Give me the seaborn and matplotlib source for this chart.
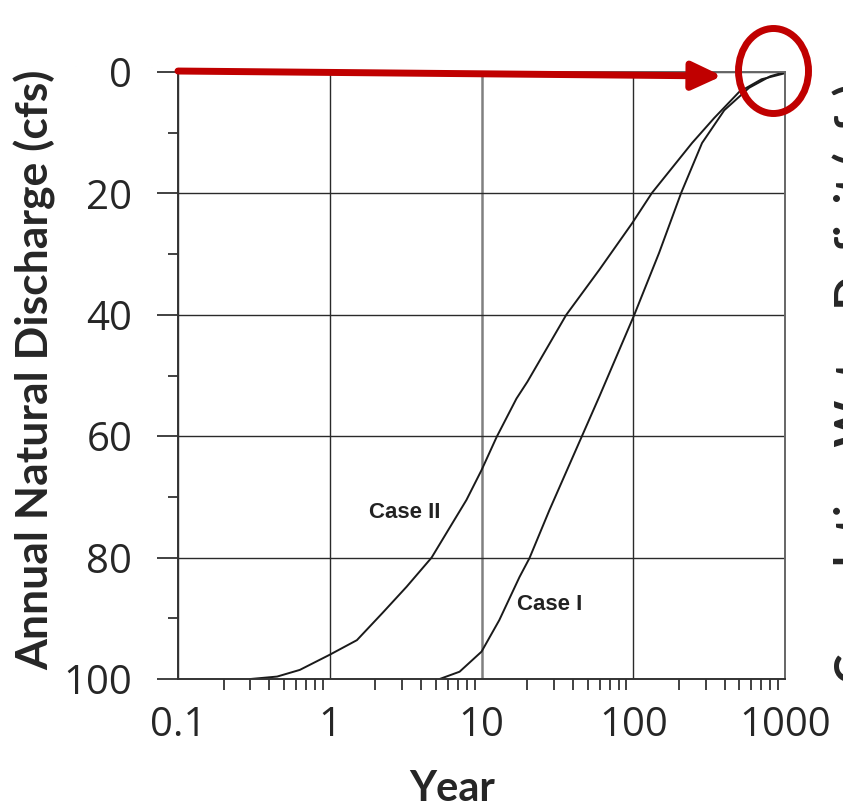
import numpy as np
import pandas as pd
import seaborn as sns
import matplotlib
matplotlib.use("Agg")
import matplotlib.pyplot as plt
from matplotlib.patches import Ellipse
from matplotlib.ticker import LogLocator, FixedLocator, NullFormatter, FixedFormatter

# ---- data ----
case2_years = [0.30, 0.45, 0.635, 1.0, 1.51, 2.23, 3.21, 4.69, 6.44, 7.96, 10.0, 12.6, 17.0,
               20.1, 36.2, 59.7, 98.4, 133, 244, 341, 498, 700, 1000]
case2_values = [100, 99.6, 98.5, 96.0, 93.6, 89.1, 84.8, 80.0, 74.3, 70.5, 65.6, 60.1, 53.8,
                51.0, 40.0, 32.6, 24.9, 19.9, 11.7, 7.6, 3.3, 1.2, 0.2]

case1_years = [5.3, 7.17, 10.0, 13.1, 17.8, 20.7, 28.0, 59.7, 101.6, 148, 207, 284, 398, 580, 800, 1000]
case1_values = [100, 98.8, 95.5, 90.3, 83.2, 80.1, 72.2, 53.5, 40.0, 29.8, 19.9, 11.7, 6.3, 2.6, 0.7, 0.0]

y_ticks = [0, 20, 40, 60, 80, 100]
y_minor = [10, 30, 50, 70, 90]
x_ticks = [0.1, 1, 10, 100, 1000]
x_tick_labels = ["0.1", "1", "10", "100", "1000"]

df = pd.concat([
    pd.DataFrame({"Year": case2_years, "Discharge": case2_values, "Case": "Case II"}),
    pd.DataFrame({"Year": case1_years, "Discharge": case1_values, "Case": "Case I"}),
])

sns.set_style("white")
plt.rcParams["font.family"] = ["Lato", "DejaVu Sans"]

fig = plt.figure(figsize=(8.43, 8.07), dpi=100)
ax = fig.add_axes([178 / 843, 1 - 679 / 807, (785 - 178) / 843, (679 - 72) / 807])

sns.lineplot(data=df, x="Year", y="Discharge", units="Case", estimator=None,
             color="#1a1a1a", linewidth=1.4, sort=False, ax=ax, legend=False)

ax.set_xscale("log")
ax.set_xlim(0.1, 1000)
ax.set_ylim(100, 0)

ax.xaxis.set_major_locator(FixedLocator(x_ticks))
ax.xaxis.set_major_formatter(FixedFormatter(x_tick_labels))
ax.xaxis.set_minor_locator(LogLocator(base=10, subs=np.arange(2, 10)))
ax.xaxis.set_minor_formatter(NullFormatter())
ax.yaxis.set_major_locator(FixedLocator(y_ticks))
ax.yaxis.set_minor_locator(FixedLocator(y_minor))

ax.grid(True, which="major", color="#2a2a2a", linewidth=1.0)
for gl, xv in zip(ax.get_xgridlines(), x_ticks):
    if xv == 10:
        gl.set_color("#808080")
        gl.set_linewidth(1.8)

ax.tick_params(axis="y", which="major", length=15, width=1.3, color="#333",
               labelsize=29, pad=18, direction="out", left=True)
ax.tick_params(axis="y", which="minor", length=7, width=1.3, color="#333", left=True)
ax.tick_params(axis="x", which="major", length=0, labelsize=29, pad=19)
ax.tick_params(axis="x", which="minor", length=8, width=1.3, color="#333", bottom=True)
for lab in ax.get_xticklabels() + ax.get_yticklabels():
    lab.set_fontfamily(["Open Sans", "DejaVu Sans"])

for side, sp in ax.spines.items():
    sp.set_visible(True)
    sp.set_color("#333" if side in ("left", "bottom") else "#666")
    sp.set_linewidth(1.4)

ax.set_xlabel("Year", fontsize=30, fontweight="bold")
ax.xaxis.set_label_coords(0.451, -0.150)
ax.set_ylabel("Annual Natural Discharge (cfs)", fontsize=32, fontweight="bold")
ax.yaxis.set_label_coords(-0.201, 0.509)

ax.text(3.11, 72.5, "Case II", fontsize=16, fontweight="bold",
        family=["Liberation Sans", "DejaVu Sans"], ha="center", va="center", color="#222")
ax.text(28, 87.8, "Case I", fontsize=16, fontweight="bold",
        family=["Liberation Sans", "DejaVu Sans"], ha="center", va="center", color="#222")

# red arrow
ax.annotate("", xy=(385, 0.66), xytext=(0.1, -0.16), xycoords="data", textcoords="data",
            annotation_clip=False,
            arrowprops=dict(arrowstyle="-|>,head_length=0.9,head_width=0.42",
                            mutation_scale=20, lw=5, color="#C00000",
                            shrinkA=0, shrinkB=0, clip_on=False))

# red circle
ell = Ellipse((773.5 / 843, 1 - 71 / 807), 70 / 843, 85 / 807, transform=fig.transFigure,
              fill=False, edgecolor="#C00000", linewidth=5, clip_on=False)
fig.add_artist(ell)

# text cut off at the right edge (as in the reference)
fig.text(832 / 843, 1 - 683 / 807, "Cumulative Water Deficit (cfs)", rotation=90,
         fontsize=32, fontweight="bold", ha="left", va="bottom")

fig.savefig("out.png", dpi=100)
